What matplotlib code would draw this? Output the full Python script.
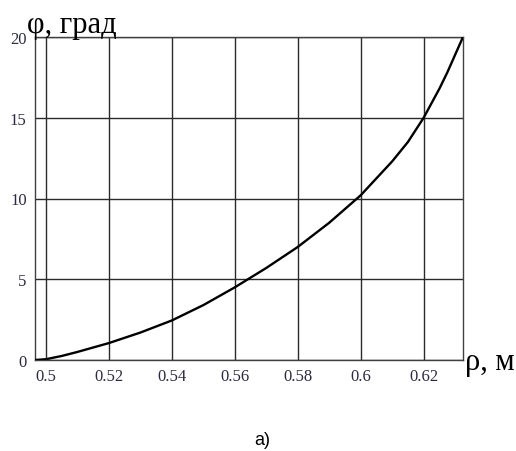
import matplotlib
matplotlib.use("Agg")
import matplotlib.pyplot as plt

rho = [0.4965, 0.500, 0.505, 0.51, 0.52, 0.53, 0.54, 0.55, 0.56, 0.57, 0.58,
       0.59, 0.60, 0.61, 0.615, 0.62, 0.625, 0.6275, 0.63, 0.6325]
phi = [0.0, 0.05, 0.25, 0.5, 1.05, 1.7, 2.45, 3.4, 4.5, 5.7, 7.0,
       8.5, 10.2, 12.3, 13.5, 15.0, 16.8, 17.8, 18.9, 20.0]

xticks = [0.5, 0.52, 0.54, 0.56, 0.58, 0.6, 0.62]
xtick_labels = ["0.5", "0.52", "0.54", "0.56", "0.58", "0.6", "0.62"]
yticks = [0, 5, 10, 15, 20]
ytick_labels = ["0", "5", "10", "15", "20"]

fig = plt.figure(figsize=(5.16, 4.52), dpi=100)
ax = fig.add_axes([35/516, 1-361/452, (463-35)/516, (361-38)/452])

ax.plot(rho, phi, color="black", lw=1.7, zorder=3)
ax.set_xlim(0.4965, 0.6325)
ax.set_ylim(0, 20)
ax.set_xticks(xticks)
ax.set_xticklabels(xtick_labels)
ax.set_yticks(yticks)
ax.set_yticklabels(ytick_labels)
ax.grid(True, color="#2a2a2a", lw=1.0)
ax.tick_params(length=0, pad=6, labelsize=12, labelcolor="#2b2b3f")
for lab in ax.get_xticklabels() + ax.get_yticklabels():
    lab.set_family("Liberation Serif")
for s in ax.spines.values():
    s.set_color("#404040")
    s.set_linewidth(1.0)

fig.text(27/516, 1-33/452, "φ, град", family="Liberation Serif", fontsize=22,
         color="black", va="baseline", ha="left")
fig.text(465/516, 1-370/452, "ρ, м", family="Liberation Serif", fontsize=22,
         color="black", va="baseline", ha="left")
fig.text(262/516, 1-445/452, "a)", family="Liberation Sans", fontsize=13,
         color="black", va="baseline", ha="center")

fig.savefig("out.png", dpi=100, facecolor="white")
